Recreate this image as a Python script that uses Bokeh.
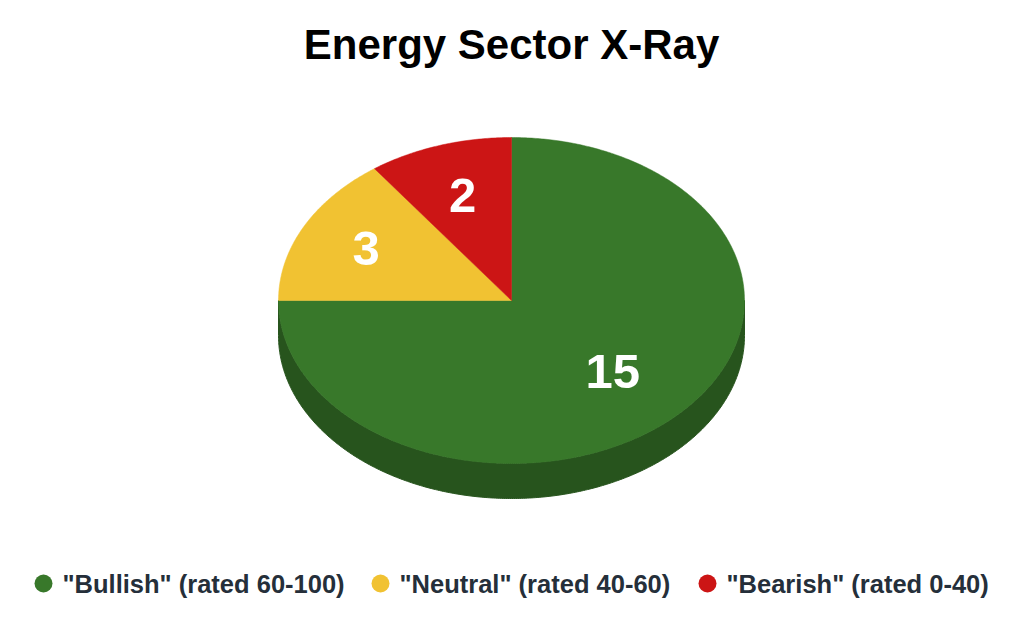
import math
from bokeh.plotting import figure
from bokeh.models import Range1d
from bokeh.embed import file_html
from bokeh.resources import INLINE
from bokeh.core.properties import value

# ---- data ----
title_text = "Energy Sector X-Ray"
categories = ['"Bullish" (rated 60-100)', '"Neutral" (rated 40-60)', '"Bearish" (rated 0-40)']
counts = [15, 3, 2]
top_colors = ["#38782a", "#f1c232", "#cc1515"]
side_colors = ["#27541d", "#a8871f", "#8e0f0f"]

# ---- layout (pixel space of the plot, y grows downward) ----
W, H = 1008, 607
CX, CY = 511, 300
RX, RY = 233, 163
DEPTH = 35
label_frac = [0.615, 0.70, 0.68]
label_fs = 49
legend_x = [43, 380, 707]
legend_y = 583
legend_text_dx = 19

p = figure(width=W, height=H, output_backend="svg", toolbar_location=None,
           x_range=Range1d(0, W), y_range=Range1d(H, 0), min_border=0)
p.axis.visible = False
p.grid.visible = False
p.outline_line_color = None
p.background_fill_color = "white"
p.border_fill_color = "white"


def pt(t_deg, dy=0.0):
    t = math.radians(t_deg)
    return CX + RX * math.sin(t), CY - RY * math.cos(t) + dy


total = float(sum(counts))
bounds = []
acc = 0.0
for c in counts:
    a0 = acc / total * 360.0
    acc += c
    a1 = acc / total * 360.0
    bounds.append((a0, a1))

# side (visible lower half, 90..270 deg clockwise from top)
for (a0, a1), col in zip(bounds, side_colors):
    s0, s1 = max(a0, 90.0), min(a1, 270.0)
    if s1 <= s0:
        continue
    n = max(4, int((s1 - s0) * 2))
    ts = [s0 + (s1 - s0) * i / n for i in range(n + 1)]
    top = [pt(t) for t in ts]
    bot = [pt(t, DEPTH) for t in reversed(ts)]
    pts = top + bot
    p.patch([q[0] for q in pts], [q[1] for q in pts], fill_color=col,
            line_color=col, line_width=1)

# top face
for (a0, a1), col in zip(bounds, top_colors):
    n = max(4, int((a1 - a0) * 2))
    ts = [a0 + (a1 - a0) * i / n for i in range(n + 1)]
    pts = [(CX, CY)] + [pt(t) for t in ts]
    p.patch([q[0] for q in pts], [q[1] for q in pts], fill_color=col,
            line_color=col, line_width=0.5)

# slice labels
lx, ly, lt = [], [], []
for (a0, a1), c, f in zip(bounds, counts, label_frac):
    m = math.radians((a0 + a1) / 2)
    lx.append(CX + f * RX * math.sin(m))
    ly.append(CY - f * RY * math.cos(m))
    lt.append(str(c))
p.text(x=lx, y=ly, text=lt, text_color="white", text_font=value("Liberation Sans"),
       text_font_style="bold", text_font_size=f"{label_fs}px",
       text_align="center", text_baseline="middle")

# title
p.text(x=[CX], y=[44], text=[title_text], text_color="black",
       text_font=value("Liberation Sans"), text_font_style="bold",
       text_font_size="42px", text_align="center", text_baseline="middle")

# legend
p.scatter(x=legend_x, y=[legend_y] * 3, size=18, marker="circle",
          fill_color=top_colors, line_color=None)
p.text(x=[x + legend_text_dx for x in legend_x], y=[legend_y] * 3, text=categories,
       text_color="#252f3a", text_font=value("Liberation Sans"), text_font_style="bold",
       text_font_size="25.5px", text_align="left", text_baseline="middle")

open("out.html", "w").write(file_html(p, INLINE))
